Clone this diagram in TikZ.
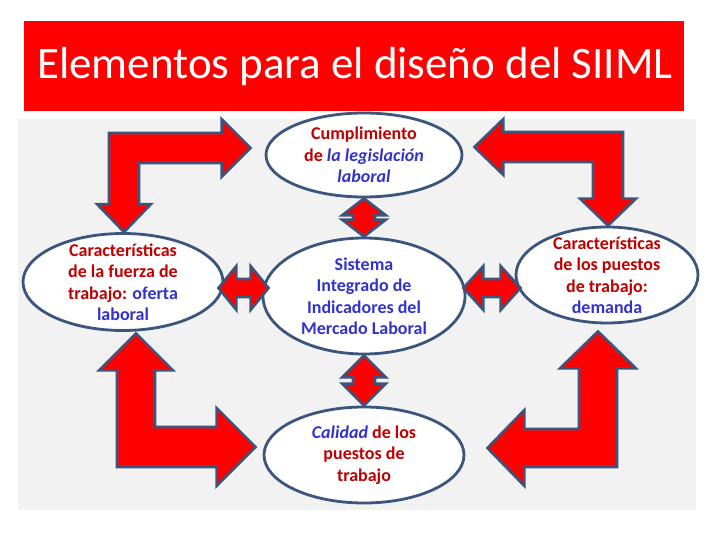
\documentclass[tikz,border=0pt]{standalone}
\usepackage{fontspec}
\setmainfont{Carlito}
\usetikzlibrary{shapes.geometric,calc}

\definecolor{titlered}{RGB}{255,0,0}
\definecolor{txtred}{RGB}{192,0,0}
\definecolor{txtblue}{RGB}{51,51,204}
\definecolor{edgeblue}{RGB}{60,85,125}
\definecolor{panelgray}{RGB}{242,242,242}

\begin{document}
\begin{tikzpicture}[x=1pt, y=-1pt,
    oval/.style={ellipse, draw=edgeblue, line width=2.8pt, fill=white, inner sep=0pt},
    ovaltext/.style={align=center, font=\bfseries\fontsize{18}{21.5}\selectfont},
    blockarrow/.style={fill=titlered, draw=edgeblue, line width=2.6pt}]
    \useasboundingbox (0,0) rectangle (720,540);

    % background and title
    \fill[panelgray] (18,119) rectangle (696,510);
    \fill[titlered] (24,21) rectangle (684,111);
    \node[white, font=\fontsize{45}{54}\selectfont, anchor=base] (title) at (355,79) {Elementos para el diseño del SIIML};

    % the five ovals
    \node[oval, minimum width=196, minimum height=84,
        label={[ovaltext]center:{\color{txtred}Cumplimiento}\\{\color{txtred}de} {\color{txtblue}\itshape la legislación}\\{\color{txtblue}\itshape laboral}}] (legis) at (364,155) {};
    \node[oval, minimum width=202, minimum height=116,
        label={[ovaltext, text=txtblue]center:Sistema\\Integrado de\\Indicadores del\\Mercado Laboral}] (sistema) at (364,296) {};
    \node[oval, minimum width=200, minimum height=96,
        label={[ovaltext]center:{\color{txtblue}\itshape Calidad} {\color{txtred}de los}\\{\color{txtred}puestos de}\\{\color{txtred}trabajo}}] (calidad) at (364,455) {};
    \node[oval, minimum width=200, minimum height=97,
        label={[ovaltext]center:{\color{txtred}Características}\\{\color{txtred}de la fuerza de}\\{\color{txtred}trabajo:} {\color{txtblue}oferta}\\{\color{txtblue}laboral}}] (oferta) at (123,282) {};
    \node[oval, minimum width=182, minimum height=96,
        label={[ovaltext]center:{\color{txtred}Características}\\{\color{txtred}de los puestos}\\{\color{txtred}de trabajo:}\\{\color{txtblue}demanda}}] (demanda) at (607,275) {};

    % arrow tips
    \coordinate (tl1) at ($(legis.west)+(-14,-7)$);
    \coordinate (tl2) at ($(oferta.north)+(1,0)$);
    \coordinate (tr1) at ($(legis.east)+(11,-8)$);
    \coordinate (tr2) at ($(demanda.north)+(1,0)$);
    \coordinate (bl1) at ($(oferta.south)+(13,1.5)$);
    \coordinate (bl2) at ($(calidad.west)+(-7,-8)$);
    \coordinate (br1) at ($(demanda.south)+(-9,7)$);
    \coordinate (br2) at ($(calidad.east)+(22,-7)$);
    \coordinate (la1) at ($(oferta.east)+(-6,6)$);
    \coordinate (la2) at ($(sistema.west)+(7,-8)$);
    \coordinate (ra1) at ($(sistema.east)+(-3,-8)$);
    \coordinate (ra2) at ($(demanda.west)+(6,13)$);

    % bent arrows
    \draw[blockarrow] (tl1) -- ++(-29,-29) -- ++(0,14) -| ($(tl2)+(-15,-28)$) -- ++(-12,0) -- (tl2)
        -- ++(27,-28) -- ++(-12,0) |- ($(tl1)+(-29,15)$) -- ++(0,14) -- cycle;
    \draw[blockarrow] (tr1) -- ++(29,-28) -- ++(0,13) -| ($(tr2)+(15,-27)$) -- ++(13,0) -- (tr2)
        -- ++(-28,-27) -- ++(13,0) |- ($(tr1)+(29,15)$) -- ++(0,13) -- cycle;
    \draw[blockarrow] (bl1) -- ++(37,37) -- ++(-18,0) |- ($(bl2)+(-39,-20)$) -- ++(0,-19) -- (bl2)
        -- ++(-39,39) -- ++(0,-19) -| ($(bl1)+(-19,37)$) -- ++(-18,0) -- cycle;
    \draw[blockarrow] (br1) -- ++(38,37) -- ++(-19,0) |- ($(br2)+(37,19)$) -- ++(0,19) -- (br2)
        -- ++(37,-38) -- ++(0,19) -| ($(br1)+(-19,37)$) -- ++(-19,0) -- cycle;

    % double arrows
    \draw[blockarrow] (legis.south) -- ++(22,17) -- ++(-11,0) -- ($(sistema.north)+(11,-17)$) -- ++(11,0)
        -- (sistema.north) -- ++(-22,-17) -- ++(11,0) -- ($(legis.south)+(-11,17)$) -- ++(-11,0) -- cycle;
    \draw[blockarrow] (sistema.south) -- ++(22,22) -- ++(-11,0) -- ($(calidad.north)+(11,-22)$) -- ++(11,0)
        -- (calidad.north) -- ++(-22,-22) -- ++(11,0) -- ($(sistema.south)+(-11,22)$) -- ++(-11,0) -- cycle;
    \draw[blockarrow] (la1) -- ++(18,-22) -- ++(0,13) -- ($(la2)+(-18,-9)$) -- ++(0,-13)
        -- (la2) -- ++(-18,22) -- ++(0,-13) -- ($(la1)+(18,9)$) -- ++(0,13) -- cycle;
    \draw[blockarrow] (ra1) -- ++(20,-22) -- ++(0,13) -- ($(ra2)+(-20,-9)$) -- ++(0,-13)
        -- (ra2) -- ++(-20,22) -- ++(0,-13) -- ($(ra1)+(20,9)$) -- ++(0,13) -- cycle;
\end{tikzpicture}
\end{document}
